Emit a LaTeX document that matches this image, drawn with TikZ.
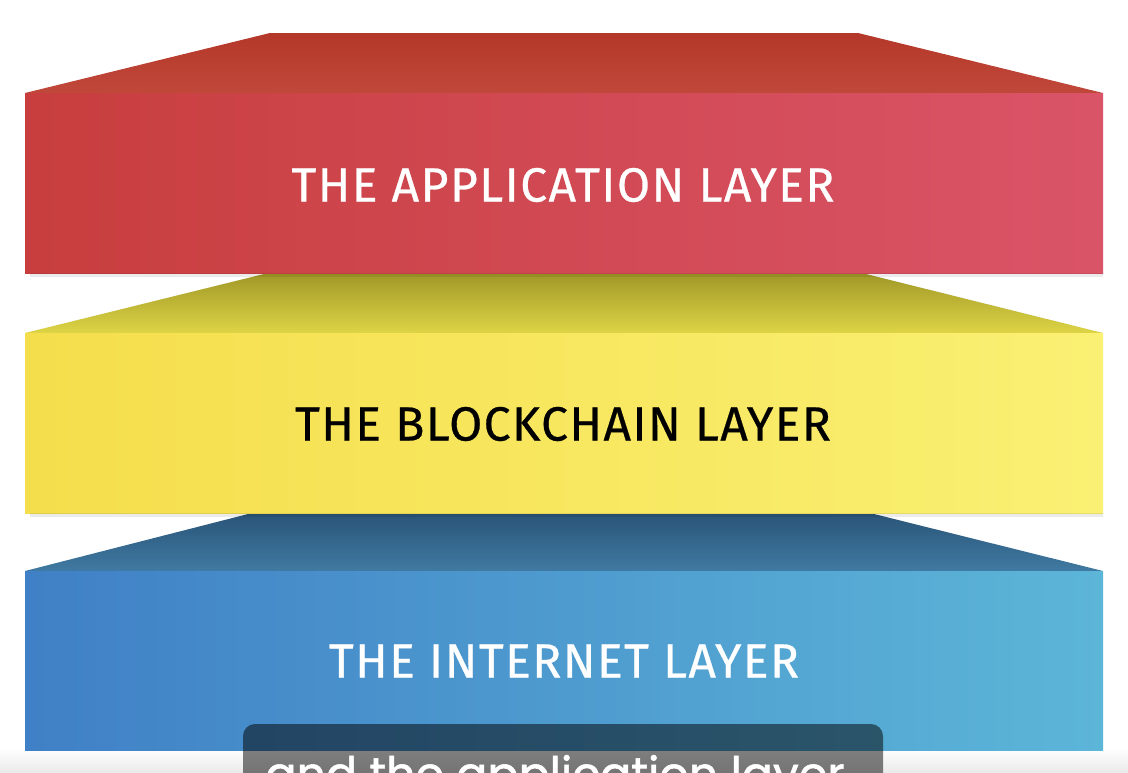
\documentclass[tikz,border=0pt]{standalone}
\usepackage{fontspec}
\setmainfont{Fira Sans}
\newfontfamily\layerfont{Fira Sans}[LetterSpace=3, FakeBold=0.6]
\newfontfamily\capfont{Poppins}[FakeBold=1.2]
\begin{document}
\begin{tikzpicture}[x=1pt,y=-1pt,
  layertext/.style={font=\layerfont\fontsize{48}{54}\selectfont, inner sep=0pt, anchor=center},
]
\useasboundingbox (0,0) rectangle (1128,772);
\clip (0,0) rectangle (1128,772);
\fill[white] (0,0) rectangle (1128,772);
\shade[top color=white, bottom color=black!8] (0,748) rectangle (1128,772);

% blue layer
\shade[top color={rgb,255:red,42;green,84;blue,120}, bottom color={rgb,255:red,64;green,122;blue,162}]
  (252,513) -- (870,513) -- (1103,571) -- (25,571) -- cycle;
\shade[left color={rgb,255:red,64;green,128;blue,198}, right color={rgb,255:red,92;green,182;blue,216}]
  (25,571) rectangle (1103,750);
\node[layertext, text=white] (internet) at (564,661) {THE INTERNET LAYER};

% yellow layer
\shade[top color={rgb,255:red,160;green,152;blue,40}, bottom color={rgb,255:red,222;green,212;blue,70}]
  (268,273) -- (862,273) -- (1103,333) -- (25,333) -- cycle;
\shade[left color={rgb,255:red,245;green,222;blue,76}, right color={rgb,255:red,250;green,240;blue,115}]
  (25,333) rectangle (1103,513);
\fill[black, opacity=0.08] (30,513) rectangle (1103,517);
\node[layertext, text=black] (blockchain) at (563,424) {THE BLOCKCHAIN LAYER};

% red layer
\shade[top color={rgb,255:red,180;green,56;blue,42}, bottom color={rgb,255:red,192;green,72;blue,58}]
  (270,33) -- (858,33) -- (1103,93) -- (25,93) -- cycle;
\shade[left color={rgb,255:red,200;green,62;blue,62}, right color={rgb,255:red,218;green,84;blue,104}]
  (25,93) rectangle (1103,273);
\fill[black, opacity=0.08] (30,273) rectangle (1103,277);
\node[layertext, text=white] (application) at (563,185) {THE APPLICATION LAYER};

% caption
\fill[black, opacity=0.5, rounded corners=12pt] (243,724) rectangle (883,800);
\node[font=\capfont\fontsize{46}{52}\selectfont, text=white, anchor=base, inner sep=0pt] (caption) at (555,790) {and the application layer};
\end{tikzpicture}
\end{document}
